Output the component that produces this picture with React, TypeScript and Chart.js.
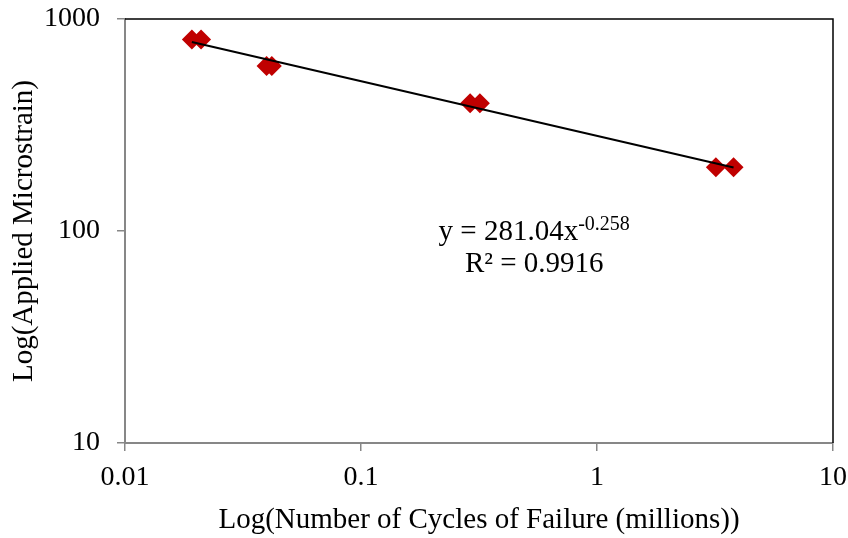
import React, { useEffect, useRef } from "react";
import { Chart, registerables } from "chart.js";

Chart.register(...registerables);

const CYCLES_MILLIONS = [0.0192, 0.021, 0.0398, 0.0419, 0.29, 0.319, 3.19, 3.79];
const MICROSTRAIN = [800, 800, 600, 600, 400, 400, 200, 200];
const X_TICKS = [0.01, 0.1, 1, 10];
const Y_TICKS = [10, 100, 1000];
const TREND_COEF = 281.04;
const TREND_EXP = -0.258;
const TREND_COEF_LABEL = "281.04";
const TREND_EXP_LABEL = "-0.258";
const R_SQUARED_LABEL = "0.9916";
const X_TITLE = "Log(Number of Cycles of Failure (millions))";
const Y_TITLE = "Log(Applied Microstrain)";

const FONT = "'Liberation Serif', 'Times New Roman', serif";
const AXIS_GRAY = "#878787";
const MARKER_RED = "#C00000";

export default function App() {
  const canvasRef = useRef<HTMLCanvasElement | null>(null);

  useEffect(() => {
    const canvas = canvasRef.current;
    if (!canvas) return;

    const points = CYCLES_MILLIONS.map((x, i) => ({ x, y: MICROSTRAIN[i] }));
    const xMin = Math.min(...CYCLES_MILLIONS);
    const xMax = Math.max(...CYCLES_MILLIONS);
    const trend = [
      { x: xMin, y: TREND_COEF * Math.pow(xMin, TREND_EXP) },
      { x: xMax, y: TREND_COEF * Math.pow(xMax, TREND_EXP) },
    ];

    const framePlugin = {
      id: "frame",
      beforeDatasetsDraw(chart: any) {
        const { ctx, chartArea } = chart;
        ctx.save();
        ctx.strokeStyle = "#000";
        ctx.lineWidth = 1.5;
        ctx.beginPath();
        ctx.moveTo(chartArea.left, chartArea.top);
        ctx.lineTo(chartArea.right, chartArea.top);
        ctx.lineTo(chartArea.right, chartArea.bottom);
        ctx.stroke();
        ctx.restore();
      },
      afterDraw(chart: any) {
        const { ctx, chartArea } = chart;
        const w = chartArea.right - chartArea.left;
        const h = chartArea.bottom - chartArea.top;
        const cx = chartArea.left + 0.578 * w;
        const y1 = chartArea.top + 0.503 * h;
        const y2 = chartArea.top + 0.578 * h;
        ctx.save();
        ctx.fillStyle = "#000";
        ctx.textBaseline = "middle";
        ctx.textAlign = "left";
        const main = "y = " + TREND_COEF_LABEL + "x";
        ctx.font = `29px ${FONT}`;
        const wMain = ctx.measureText(main).width;
        ctx.font = `20px ${FONT}`;
        const wSup = ctx.measureText(TREND_EXP_LABEL).width;
        const start = cx - (wMain + wSup) / 2;
        ctx.font = `29px ${FONT}`;
        ctx.fillText(main, start, y1);
        ctx.font = `20px ${FONT}`;
        ctx.fillText(TREND_EXP_LABEL, start + wMain, y1 - 8);
        ctx.font = `29px ${FONT}`;
        ctx.textAlign = "center";
        ctx.fillText("R\u00B2 = " + R_SQUARED_LABEL, cx, y2);
        ctx.restore();
      },
    };

    const chart = new Chart(canvas, {
      type: "scatter",
      data: {
        datasets: [
          {
            type: "line",
            label: "Power trend",
            data: trend,
            showLine: true,
            borderColor: "#000",
            borderWidth: 2,
            pointRadius: 0,
            fill: false,
          } as any,
          {
            label: "Data",
            data: points,
            pointStyle: "rectRot",
            pointRadius: 10,
            backgroundColor: MARKER_RED,
            borderColor: MARKER_RED,
            borderWidth: 0,
          },
        ],
      },
      options: {
        animation: false,
        responsive: false,
        maintainAspectRatio: false,
        layout: { padding: { top: 19, right: 15, left: 0, bottom: 0 } },
        plugins: {
          legend: { display: false },
          tooltip: { enabled: false },
        },
        scales: {
          x: {
            type: "logarithmic",
            position: "bottom",
            min: 0.01,
            max: 10,
            afterBuildTicks: (s: any) => {
              s.ticks = X_TICKS.map((v) => ({ value: v }));
            },
            afterFit: (s: any) => {
              s.height = 95;
              s.paddingLeft = 0;
              s.paddingRight = 0;
            },
            ticks: {
              callback: (v: any) => String(v),
              font: { family: FONT, size: 28 },
              color: "#000",
              padding: 10,
              maxRotation: 0,
              autoSkip: false,
            },
            grid: {
              drawOnChartArea: false,
              drawTicks: true,
              tickLength: 8,
              color: AXIS_GRAY,
              lineWidth: 1.5,
            },
            border: { color: AXIS_GRAY, width: 2 },
            title: {
              display: true,
              text: X_TITLE,
              font: { family: FONT, size: 29 },
              color: "#000",
              padding: { top: 0, bottom: 0 },
            },
          },
          y: {
            type: "logarithmic",
            position: "left",
            min: 10,
            max: 1000,
            afterBuildTicks: (s: any) => {
              s.ticks = Y_TICKS.map((v) => ({ value: v }));
            },
            afterFit: (s: any) => {
              s.width = 125;
              s.paddingTop = 0;
              s.paddingBottom = 0;
            },
            ticks: {
              callback: (v: any) => String(v),
              font: { family: FONT, size: 28 },
              color: "#000",
              padding: 17,
              autoSkip: false,
            },
            grid: {
              drawOnChartArea: false,
              drawTicks: true,
              tickLength: 8,
              color: AXIS_GRAY,
              lineWidth: 1.5,
            },
            border: { color: AXIS_GRAY, width: 2 },
            title: {
              display: true,
              text: Y_TITLE,
              font: { family: FONT, size: 29 },
              color: "#000",
              padding: { top: 7, bottom: 0 },
            },
          },
        },
      },
      plugins: [framePlugin],
    });

    return () => chart.destroy();
  }, []);

  return (
    <div style={{ position: "absolute", left: 0, top: 0, width: 848, height: 538, background: "#fff" }}>
      <canvas ref={canvasRef} width={848} height={538} />
    </div>
  );
}
